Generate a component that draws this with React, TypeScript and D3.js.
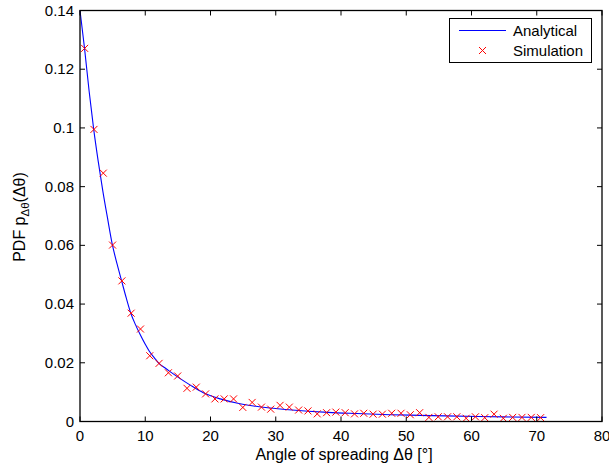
import React from "react";
import * as d3 from "d3";

const simX = [0.71, 2.14, 3.57, 4.99, 6.42, 7.84, 9.27, 10.69, 12.12, 13.55, 14.97, 16.4, 17.82, 19.25, 20.68, 22.1, 23.53, 24.95, 26.38, 27.81, 29.23, 30.66, 32.08, 33.51, 34.94, 36.36, 37.79, 39.21, 40.64, 42.07, 43.49, 44.92, 46.34, 47.77, 49.2, 50.62, 52.05, 53.47, 54.9, 56.33, 57.75, 59.18, 60.6, 62.03, 63.46, 64.88, 66.31, 67.73, 69.16, 70.59];
const simY = [0.1271, 0.0995, 0.0846, 0.0601, 0.0479, 0.0369, 0.0315, 0.0224, 0.0198, 0.0166, 0.0155, 0.0113, 0.0117, 0.0094, 0.0077, 0.0077, 0.0077, 0.0048, 0.0065, 0.0049, 0.0042, 0.0055, 0.0049, 0.0039, 0.0036, 0.0026, 0.003, 0.0032, 0.003, 0.0026, 0.0028, 0.0025, 0.0025, 0.0028, 0.0028, 0.0023, 0.003, 0.0014, 0.0016, 0.0016, 0.0016, 0.0011, 0.0016, 0.0013, 0.0025, 0.0011, 0.0014, 0.0014, 0.0014, 0.0013];

const curveX = [0, 0.7, 1.4, 2.1, 2.8, 3.5, 4.2, 4.95, 5.7, 6.4, 7.1, 7.8, 8.5, 9.2, 10.0, 10.6, 11.4, 12.1, 13.0, 13.8, 15.3, 16.9, 18.9, 21.5, 24.0, 26.6, 29.1, 32.0, 35.0, 38.0, 42.4, 47.5, 52.0, 56.0, 61.0, 66.0, 71.5];
const curveY = [0.14, 0.127, 0.1125, 0.0995, 0.0885, 0.0785, 0.0695, 0.0603, 0.0535, 0.0477, 0.042, 0.0368, 0.033, 0.0297, 0.0263, 0.024, 0.0217, 0.0198, 0.0183, 0.017, 0.0147, 0.0124, 0.0098, 0.0077, 0.0063, 0.0053, 0.0046, 0.004, 0.0035, 0.0031, 0.0027, 0.0023, 0.0021, 0.0019, 0.0017, 0.00155, 0.0014];

const xTicks = [0, 10, 20, 30, 40, 50, 60, 70, 80];
const yTicks = [0, 0.02, 0.04, 0.06, 0.08, 0.1, 0.12, 0.14];
const yTickLabels = ["0", "0.02", "0.04", "0.06", "0.08", "0.1", "0.12", "0.14"];
const legendLabels = ["Analytical", "Simulation"];

const W = 609, H = 471;
const L = 80, R = 602, T = 10.5, B = 421.5;
const FONT = "'Liberation Sans', Arial, Helvetica, sans-serif";

export default function App() {
  const x = d3.scaleLinear().domain([0, 80]).range([L, R]);
  const y = d3.scaleLinear().domain([0, 0.14]).range([B, T]);
  const pts: [number, number][] = curveX.map((v, i) => [v, curveY[i]]);
  const line = d3.line<[number, number]>().x(d => x(d[0])).y(d => y(d[1])).curve(d3.curveMonotoneX);
  const tl = 5;
  const ms = 3.5;
  const cross = (cx: number, cy: number, key: any) => (
    <path key={key} d={`M${cx - ms},${cy - ms}L${cx + ms},${cy + ms}M${cx - ms},${cy + ms}L${cx + ms},${cy - ms}`} stroke="#ff0000" strokeWidth={1} fill="none" />
  );
  return (
    <svg width={W} height={H} style={{ position: "absolute", left: 0, top: 0, background: "#fff" }} fontFamily={FONT}>
      <rect x={0} y={0} width={W} height={H} fill="#fff" />
      <path d={line(pts) || ""} stroke="#0000ff" strokeWidth={1.1} fill="none" />
      {simX.map((v, i) => cross(x(v), y(simY[i]), i))}
      <rect x={L} y={T} width={R - L} height={B - T} fill="none" stroke="#000" strokeWidth={1.3} />
      {xTicks.map(t => (
        <g key={"x" + t}>
          <line x1={x(t)} x2={x(t)} y1={B} y2={B - tl} stroke="#000" strokeWidth={1} />
          <line x1={x(t)} x2={x(t)} y1={T} y2={T + tl} stroke="#000" strokeWidth={1} />
          <text x={x(t)} y={441} fontSize={15} textAnchor="middle" fill="#000">{t}</text>
        </g>
      ))}
      {yTicks.map((t, i) => (
        <g key={"y" + t}>
          <line x1={L} x2={L + tl} y1={y(t)} y2={y(t)} stroke="#000" strokeWidth={1} />
          <line x1={R} x2={R - tl} y1={y(t)} y2={y(t)} stroke="#000" strokeWidth={1} />
          <text x={74} y={y(t) + 5} fontSize={15} textAnchor="end" fill="#000">{yTickLabels[i]}</text>
        </g>
      ))}
      <text x={(L + R) / 2 + 3} y={460} fontSize={16} textAnchor="middle" fill="#000">Angle of spreading Δθ [°]</text>
      <text transform={`translate(25,217) rotate(-90)`} fontSize={16} textAnchor="middle" fill="#000">
        PDF p<tspan fontSize={11.5} dy={4}>Δθ</tspan><tspan dy={-4}>(Δθ)</tspan>
      </text>
      <rect x={449.5} y={18.5} width={142} height={44} fill="#fff" stroke="#000" strokeWidth={1} />
      <line x1={459} x2={506} y1={30.5} y2={30.5} stroke="#0000ff" strokeWidth={1.1} />
      {cross(482.5, 50.5, "leg")}
      <text x={513} y={36} fontSize={15} fill="#000">{legendLabels[0]}</text>
      <text x={513} y={56} fontSize={15} fill="#000">{legendLabels[1]}</text>
    </svg>
  );
}
